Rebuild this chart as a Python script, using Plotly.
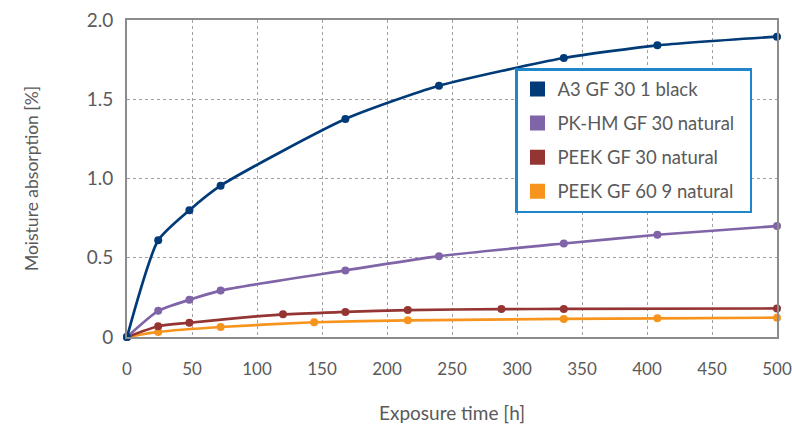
import plotly.graph_objects as go

names = ["A3 GF 30 1 black", "PK-HM GF 30 natural", "PEEK GF 30 natural", "PEEK GF 60 9 natural"]
colors = ["#003b78", "#8064a8", "#943534", "#f7941d"]

a3_x = [0, 24, 48, 72, 168, 240, 336, 408, 500]
a3_y = [0, 0.61, 0.80, 0.955, 1.375, 1.585, 1.76, 1.84, 1.895]

pk_x = [0, 24, 48, 72, 168, 240, 336, 408, 500]
pk_y = [0, 0.165, 0.235, 0.293, 0.42, 0.51, 0.59, 0.645, 0.70]

peek30_x = [0, 24, 48, 120, 168, 216, 288, 336, 500]
peek30_y = [0, 0.068, 0.09, 0.143, 0.158, 0.17, 0.176, 0.177, 0.18]

peek60_x = [0, 24, 72, 144, 216, 336, 408, 500]
peek60_y = [0, 0.032, 0.063, 0.093, 0.105, 0.114, 0.118, 0.122]

series = [(a3_x, a3_y), (pk_x, pk_y), (peek30_x, peek30_y), (peek60_x, peek60_y)]

x_ticks = list(range(0, 501, 50))
y_ticks = [0, 0.5, 1.0, 1.5, 2.0]
y_tick_labels = ["0", "0.5", "1.0", "1.5", "2.0"]

font_family = "Lato, 'Open Sans', sans-serif"
text_color = "#5a5a5a"

fig = go.Figure()
# draw in reverse so blue is on top
for i in reversed(range(4)):
    xs, ys = series[i]
    fig.add_trace(go.Scatter(
        x=xs, y=ys, mode="lines+markers",
        line=dict(color=colors[i], width=2.7, shape="spline", smoothing=0.6),
        marker=dict(color=colors[i], size=8),
        showlegend=False, cliponaxis=False,
    ))
pad = "\u00a0" * 2
for i in range(4):
    fig.add_trace(go.Scatter(
        x=[None], y=[None], mode="markers",
        name=names[i] + (pad if i == 1 else ""),
        marker=dict(color=colors[i], symbol="square", size=15),
        legendgroup=str(i),
    ))

fig.update_layout(
    width=792, height=431,
    margin=dict(l=127, r=15, t=20, b=94),
    paper_bgcolor="white", plot_bgcolor="white",
    font=dict(family=font_family, color=text_color, size=18),
    showlegend=True,
    legend=dict(
        x=(515 - 127) / 650, y=(337 - 68) / 317, xanchor="left", yanchor="top",
        bordercolor="#1f87c9", borderwidth=2.5, bgcolor="white",
        font=dict(size=18.5, color=text_color),
        tracegroupgap=7, itemsizing="trace",
    ),
    xaxis=dict(
        range=[0, 500], tickvals=x_ticks, showgrid=True,
        gridcolor="#a0a0a0", griddash="dot", gridwidth=1,
        showline=True, linecolor="#8c8c8c", linewidth=1.8, mirror=True,
        ticks="", zeroline=False, automargin=False,
        ticklabelstandoff=16,
        title=dict(text="Exposure time [h]", font=dict(size=19), standoff=28),
        tickfont=dict(size=17),
    ),
    yaxis=dict(
        range=[0, 2.0], tickvals=y_ticks, ticktext=y_tick_labels, showgrid=True,
        gridcolor="#a0a0a0", griddash="dot", gridwidth=1,
        showline=True, linecolor="#8c8c8c", linewidth=1.8, mirror=True,
        ticks="", zeroline=False, automargin=False,
        ticklabelstandoff=8,
        title=dict(text="Moisture absorption [%]", font=dict(size=17.5), standoff=44),
        tickfont=dict(size=19),
    ),
)

fig.write_html("out.html")
